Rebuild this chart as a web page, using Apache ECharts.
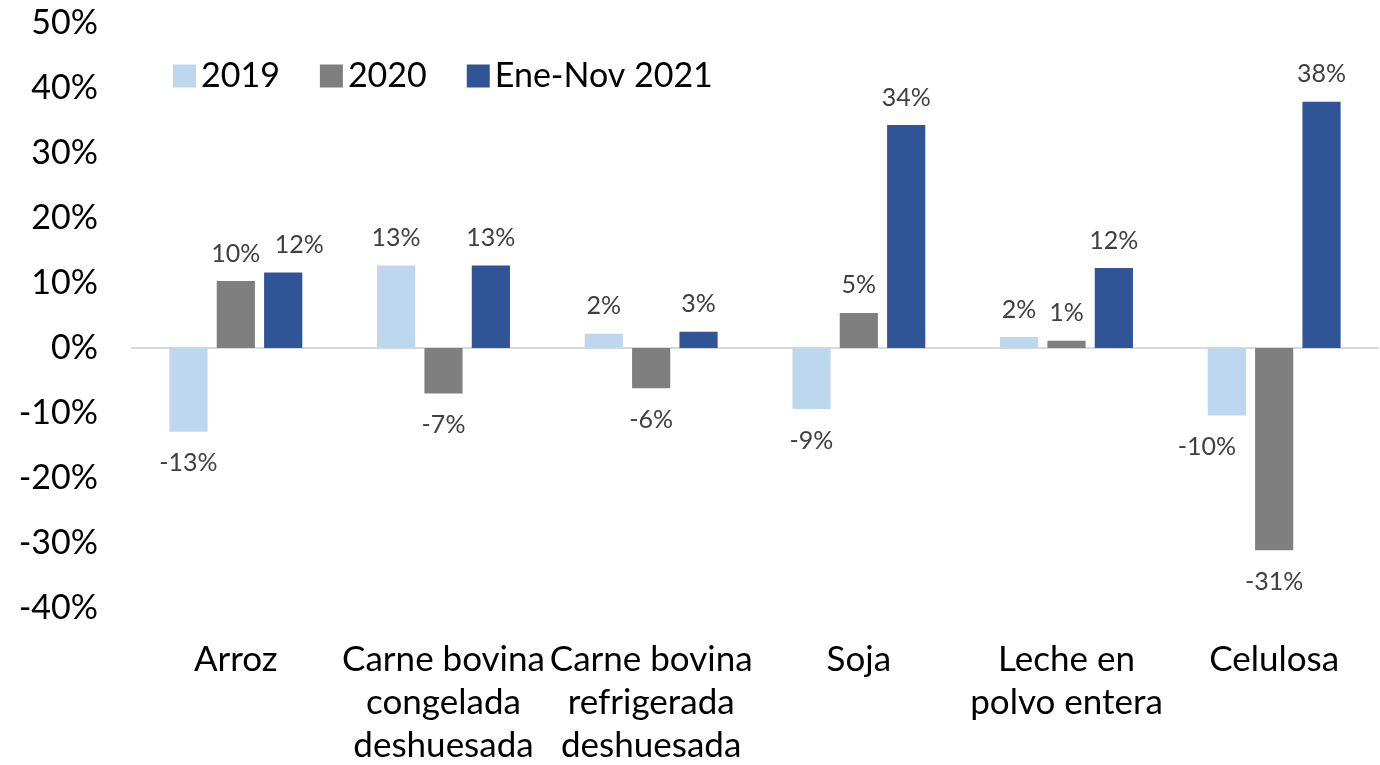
<!DOCTYPE html>
<html>
<head>
<meta charset="utf-8">
<script src="https://cdn.jsdelivr.net/npm/echarts@6/dist/echarts.min.js"></script>
<style>
  html, body { margin: 0; padding: 0; background: #fff; }
  #chart_bar { width: 1380px; height: 765px; }
</style>
</head>
<body>
<div id="chart_bar"></div>
<script>
// datos
var categorias = ['Arroz', 'Carne bovina\ncongelada\ndeshuesada', 'Carne bovina\nrefrigerada\ndeshuesada', 'Soja', 'Leche en\npolvo entera', 'Celulosa'];
var series2019 = [-12.9, 12.7, 2.2, -9.4, 1.7, -10.4];
var series2020 = [10.3, -7.0, -6.2, 5.4, 1.1, -31.1];
var series2021 = [11.6, 12.7, 2.5, 34.3, 12.3, 37.9];
var nombres = ['2019', '2020', 'Ene-Nov 2021'];
var colores = ['#bdd7ee', '#7f7f7f', '#2f5597'];

var fuente = 'Lato, "Open Sans", sans-serif';

// etiquetas corridas a mano en el original (serie-categoria: desplazamiento)
var ajusteEtiquetas = { '2-0': [16, 0], '0-5': [-20, 0] };

function armarDatos(valores, s) {
    return valores.map(function (v, j) {
        var lbl = v < 0
            ? { position: 'bottom', distance: 19 }
            : { position: 'top', distance: 15 };
        var off = ajusteEtiquetas[s + '-' + j];
        if (off) lbl.offset = off;
        return { value: v, label: lbl };
    });
}

var myChart = echarts.init(document.getElementById('chart_bar'));

var listaSeries = [series2019, series2020, series2021].map(function (vals, i) {
    return {
        name: nombres[i],
        type: 'bar',
        xAxisIndex: 0,
        data: armarDatos(vals, i),
        barGap: '24%',
        barCategoryGap: '36%',
        itemStyle: { color: colores[i] },
        label: {
            show: true,
            color: '#404040',
            fontSize: 25,
            fontFamily: fuente,
            formatter: function (p) {
                return Math.round(p.value) + '%';
            }
        }
    };
});

var option = {
    animation: false,
    textStyle: { fontFamily: fuente },
    legend: {
        left: 168,
        top: 54,
        itemWidth: 23,
        itemHeight: 23,
        itemGap: 40,
        icon: 'rect',
        textStyle: { fontSize: 34, color: '#000', fontFamily: fuente },
        data: nombres
    },
    grid: {
        left: 132,
        right: 2,
        top: 23,
        bottom: 157,
        containLabel: false,
        outerBoundsMode: 'none'
    },
    xAxis: [
        {
            type: 'category',
            data: categorias,
            axisLine: { onZero: true, lineStyle: { color: '#d9d9d9', width: 2 } },
            axisTick: { show: false },
            axisLabel: { show: false }
        },
        {
            type: 'category',
            data: categorias,
            position: 'bottom',
            axisLine: { show: false, onZero: false },
            axisTick: { show: false },
            axisLabel: {
                color: '#000',
                fontSize: 35,
                lineHeight: 43,
                margin: 30,
                interval: 0,
                fontFamily: fuente
            }
        }
    ],
    yAxis: {
        type: 'value',
        min: -40,
        max: 50,
        interval: 10,
        axisLine: { show: false },
        axisTick: { show: false },
        splitLine: { show: false },
        axisLabel: {
            color: '#000',
            fontSize: 34,
            margin: 34,
            fontFamily: fuente,
            formatter: '{value}%'
        }
    },
    series: listaSeries
};

myChart.setOption(option);
</script>
</body>
</html>
